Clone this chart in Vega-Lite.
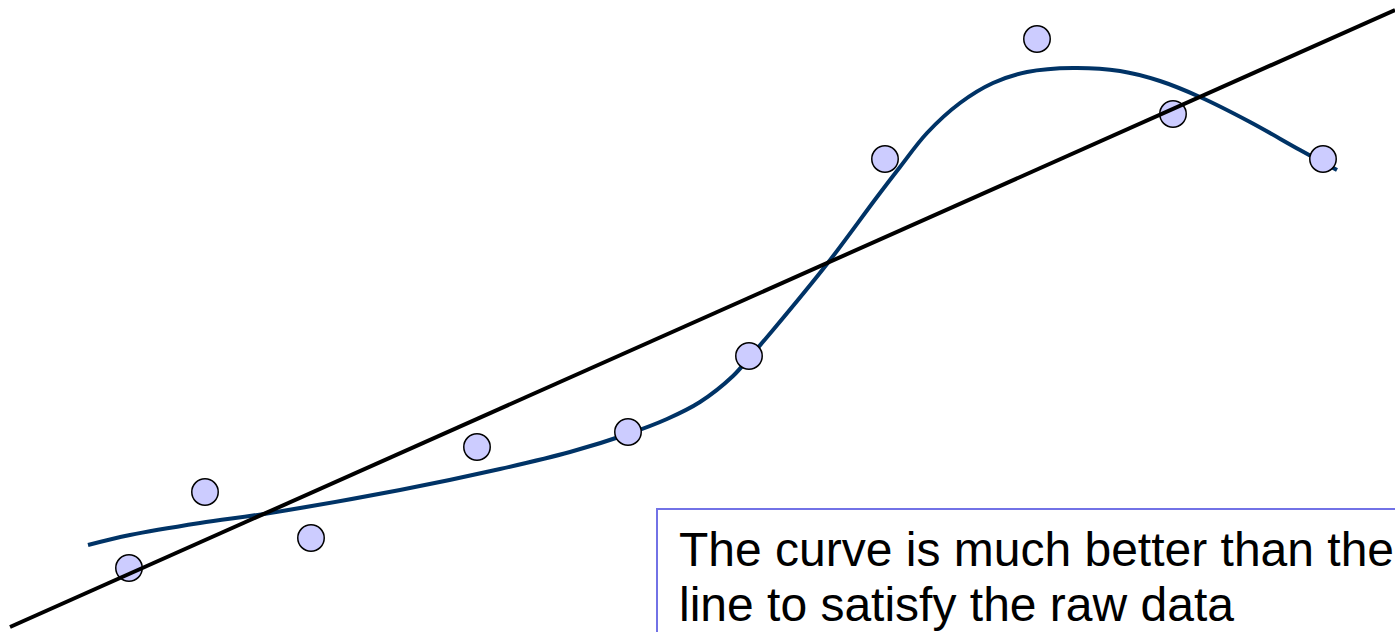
{
  "$schema": "https://vega.github.io/schema/vega-lite/v6.json",
  "width": 1395,
  "height": 632,
  "padding": 0,
  "autosize": "none",
  "background": "white",
  "config": {"view": {"stroke": null}},
  "datasets": {
    "points": [
      {"x": 129, "y": 568}, {"x": 205, "y": 492}, {"x": 311, "y": 538},
      {"x": 477, "y": 447}, {"x": 628, "y": 432}, {"x": 749, "y": 356},
      {"x": 885, "y": 159}, {"x": 1037, "y": 39}, {"x": 1173, "y": 114},
      {"x": 1323, "y": 159}
    ],
    "curve": [
      {"x": 88, "y": 545}, {"x": 130, "y": 535}, {"x": 200, "y": 523},
      {"x": 270, "y": 513}, {"x": 400, "y": 490}, {"x": 500, "y": 469},
      {"x": 570, "y": 452}, {"x": 628, "y": 434}, {"x": 667, "y": 419},
      {"x": 700, "y": 402}, {"x": 733, "y": 376},
      {"x": 749, "y": 358}, {"x": 773, "y": 330}, {"x": 827, "y": 264},
      {"x": 877, "y": 197}, {"x": 900, "y": 167}, {"x": 927, "y": 133},
      {"x": 960, "y": 103}, {"x": 993, "y": 83}, {"x": 1027, "y": 72},
      {"x": 1073, "y": 68}, {"x": 1120, "y": 71}, {"x": 1160, "y": 81},
      {"x": 1200, "y": 97}, {"x": 1250, "y": 122}, {"x": 1300, "y": 150},
      {"x": 1337, "y": 170}
    ],
    "line": [{"x": 10, "y": 627}, {"x": 1395, "y": 10}],
    "box": [{"x": 657, "x2": 1400, "y": 509, "y2": 640}],
    "label": [
      {"x": 679, "y": 566, "t": "The curve is much better than the"},
      {"x": 679, "y": 621, "t": "line to satisfy the raw data"}
    ]
  },
  "layer": [
    {
      "data": {"name": "box"},
      "mark": {"type": "rect", "fill": "white", "stroke": "#7272e6", "strokeWidth": 2},
      "encoding": {
        "x": {"field": "x", "type": "quantitative", "scale": {"domain": [0, 1395]}, "axis": null},
        "x2": {"field": "x2"},
        "y": {"field": "y", "type": "quantitative", "scale": {"domain": [0, 632], "reverse": true}, "axis": null},
        "y2": {"field": "y2"}
      }
    },
    {
      "data": {"name": "label"},
      "mark": {"type": "text", "align": "left", "baseline": "alphabetic", "font": "Liberation Sans", "fontSize": 48, "color": "black"},
      "encoding": {
        "x": {"field": "x", "type": "quantitative", "scale": {"domain": [0, 1395]}, "axis": null},
        "y": {"field": "y", "type": "quantitative", "scale": {"domain": [0, 632], "reverse": true}, "axis": null},
        "text": {"field": "t"}
      }
    },
    {
      "data": {"name": "curve"},
      "mark": {"type": "line", "color": "#003366", "strokeWidth": 4, "interpolate": "catmull-rom"},
      "encoding": {
        "x": {"field": "x", "type": "quantitative", "scale": {"domain": [0, 1395]}, "axis": null},
        "y": {"field": "y", "type": "quantitative", "scale": {"domain": [0, 632], "reverse": true}, "axis": null}
      }
    },
    {
      "data": {"name": "points"},
      "mark": {"type": "point", "shape": "circle", "filled": true, "fill": "#ccccff", "stroke": "black", "strokeWidth": 1.5, "opacity": 1, "size": 700},
      "encoding": {
        "x": {"field": "x", "type": "quantitative", "scale": {"domain": [0, 1395]}, "axis": null},
        "y": {"field": "y", "type": "quantitative", "scale": {"domain": [0, 632], "reverse": true}, "axis": null}
      }
    },
    {
      "data": {"name": "line"},
      "mark": {"type": "line", "color": "black", "strokeWidth": 4},
      "encoding": {
        "x": {"field": "x", "type": "quantitative", "scale": {"domain": [0, 1395]}, "axis": null},
        "y": {"field": "y", "type": "quantitative", "scale": {"domain": [0, 632], "reverse": true}, "axis": null}
      }
    }
  ]
}
